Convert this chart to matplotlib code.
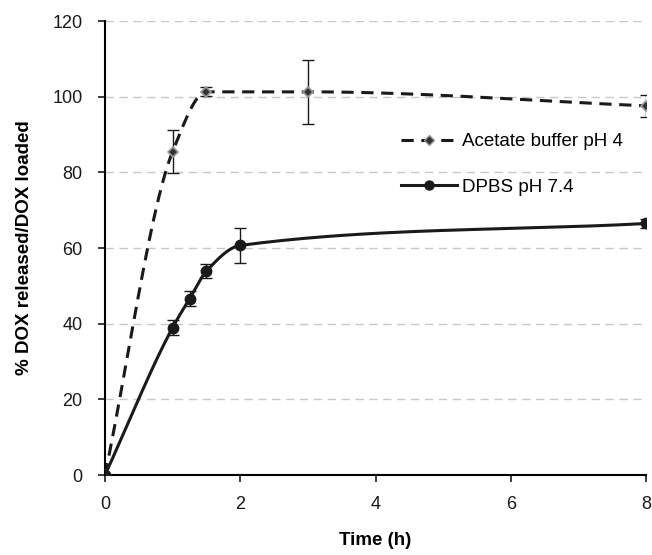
import numpy as np
import matplotlib
matplotlib.use('Agg')
import matplotlib.pyplot as plt

plt.rcParams['font.family'] = ['Liberation Sans', 'DejaVu Sans']

# 数据：时间 (h) 与释放百分比
t_acetate = [0, 1, 1.5, 3, 8]
y_acetate = [0, 85.5, 101.3, 101.3, 97.6]
err_acetate = [0, 5.7, 1.2, 8.5, 2.9]

t_dpbs = [0, 1, 1.25, 1.5, 2, 8]
y_dpbs = [0, 39.0, 46.6, 53.9, 60.7, 66.5]
err_dpbs = [0, 1.9, 2.0, 1.9, 4.6, 1.2]

labels = ['Acetate buffer pH 4', 'DPBS pH 7.4']


def smooth(x, y, n=60):
    '''单调三次Hermite插值，用于画平滑曲线'''
    x = np.asarray(x, float)
    y = np.asarray(y, float)
    h = np.diff(x)
    d = np.diff(y) / h
    m = np.zeros_like(y)
    m[0] = d[0]
    m[-1] = d[-1]
    for i in range(1, len(x) - 1):
        if d[i - 1] * d[i] <= 0:
            m[i] = 0.0
        else:
            w1 = 2 * h[i] + h[i - 1]
            w2 = h[i] + 2 * h[i - 1]
            m[i] = (w1 + w2) / (w1 / d[i - 1] + w2 / d[i])
    xs, ys = [], []
    for i in range(len(x) - 1):
        s = np.linspace(0, 1, n)
        h00 = 2 * s ** 3 - 3 * s ** 2 + 1
        h10 = s ** 3 - 2 * s ** 2 + s
        h01 = -2 * s ** 3 + 3 * s ** 2
        h11 = s ** 3 - s ** 2
        xs.extend(x[i] + s * h[i])
        ys.extend(h00 * y[i] + h10 * h[i] * m[i] + h01 * y[i + 1] + h11 * h[i] * m[i + 1])
    return np.array(xs), np.array(ys)


fig = plt.figure(figsize=(6.52, 5.55), dpi=100)
ax = fig.add_axes([0.161, 0.144, 0.830, 0.818])

for yv in range(20, 121, 20):
    ax.axhline(yv, color='#c8c8c8', linestyle=(0, (6, 4)), linewidth=1.0, zorder=0)

# 醋酸缓冲液
sx1, sy1 = smooth(t_acetate, y_acetate)
ax.plot(sx1, sy1, color='#1a1a1a', linestyle=(0, (4, 2.5)), linewidth=2.2, zorder=2)
ax.errorbar(t_acetate, y_acetate, yerr=err_acetate, fmt='none', ecolor='#1a1a1a',
            elinewidth=1.0, capsize=4, capthick=1.0, zorder=3)
ax.plot(t_acetate, y_acetate, linestyle='none', marker='D', markersize=5,
        markerfacecolor='#333333', markeredgecolor='#999999', markeredgewidth=1.2, zorder=4)

# DPBS
sx2, sy2 = smooth(t_dpbs, y_dpbs)
ax.plot(sx2, sy2, color='#1a1a1a', linestyle='-', linewidth=2.2, zorder=2)
ax.errorbar(t_dpbs, y_dpbs, yerr=err_dpbs, fmt='none', ecolor='#1a1a1a',
            elinewidth=1.0, capsize=4, capthick=1.0, zorder=3)
ax.plot(t_dpbs, y_dpbs, linestyle='none', marker='o', markersize=7.5,
        color='#1a1a1a', zorder=4)

# 图例
h1, = ax.plot([], [], color='#1a1a1a', linestyle=(0, (4, 2.5)), linewidth=2.2, marker='D',
              markersize=5, markerfacecolor='#333333', markeredgecolor='#999999')
h2, = ax.plot([], [], color='#1a1a1a', linestyle='-', linewidth=2.2, marker='o',
              markersize=6.5)
ax.legend([h1, h2], labels, loc='upper left', bbox_to_anchor=(0.515, 0.79), frameon=False,
          fontsize=13.5, handlelength=3.0, labelspacing=1.5, handletextpad=0.3)

ax.set_xlim(0, 8)
ax.set_ylim(0, 120)
ax.set_xticks([0, 2, 4, 6, 8])
ax.set_yticks(range(0, 121, 20))
ax.spines['top'].set_visible(False)
ax.spines['right'].set_visible(False)
ax.spines['left'].set_linewidth(1.5)
ax.spines['bottom'].set_linewidth(1.5)
ax.tick_params(direction='out', length=5, width=1.2, labelsize=13, colors='#1a1a1a')
ax.tick_params(axis='y', pad=11)
ax.tick_params(axis='x', pad=10)
ax.set_xlabel('Time (h)', fontsize=13.5, fontweight='bold', labelpad=14)
ax.set_ylabel('% DOX released/DOX loaded', fontsize=13.5, fontweight='bold', labelpad=14)

fig.savefig('out.png', dpi=100)
